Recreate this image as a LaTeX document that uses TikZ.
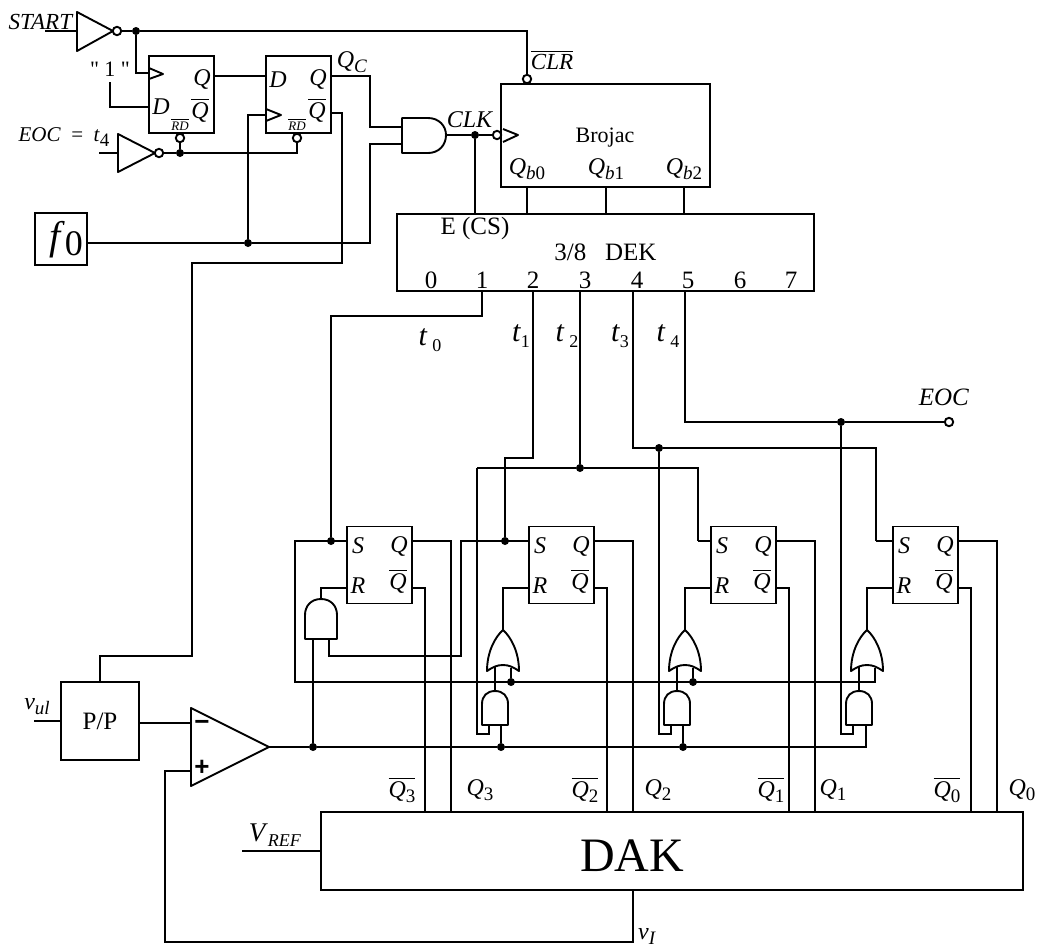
\documentclass[tikz,border=0pt]{standalone}
\usepackage{fontspec}
\setmainfont{Liberation Serif}
\setsansfont{Liberation Sans}
\newfontfamily\straightfont{Liberation Serif}
\newcommand{\fsize}[1]{\fontsize{#1}{#1}\selectfont}
\newcommand{\lowsub}[1]{\raisebox{-.45ex}{\fsize{9.5}#1}}
\newcommand{\qbar}[1]{$\overline{\hbox{\textit{Q}#1}}$}
\tikzset{
	wire/.style={line width=0.95pt},
	gate/.style={line width=0.95pt,line join=round},
	blockbox/.style={draw,line width=0.95pt,inner sep=0,outer sep=0},
	ffbox/.style={blockbox,minimum width=32.5pt,minimum height=38.5pt},
	lbl/.style={inner sep=0,font=\fsize{12}},
	jdot/.style={circle,fill=black,inner sep=0,outer sep=0,minimum size=4pt},
	bubble/.style={circle,draw,fill=white,line width=0.95pt,inner sep=0,outer sep=0,minimum size=4.2pt}
}
\begin{document}
\begin{tikzpicture}[x=0.5pt,y=-0.5pt]
	\useasboundingbox (0,0) rectangle (1037,948);
	
	%START inverter
	\node[lbl] (start) at (41,22) {\fsize{11.5}\textit{START}};
	\coordinate (startin) at (45,31);
	\coordinate (startinv) at (77,31);
	\draw[gate] (77,12) -- (113,31) -- (77,51) -- cycle;
	\node[bubble] (startb) at (117,31) {};
	\node[jdot] (jstart) at (136,31) {};
	\node[bubble] (clrb) at (527,79) {};
	\node[lbl] (clr) at (552,60) {\fsize{11.5}$\overline{\hbox{\textit{CLR}}}$};
	\draw[wire] (startin) -- (startinv);
	\draw[wire] (startb) -- (jstart) -| (clrb);
	
	%First D-Cell
	\def\x{149}
	\node[ffbox] (ffa) at (\x+32.5,94.5) {};
	\node[lbl] (ffaD) at (\x+12,107) {\textit{D}};
	\node[lbl] (ffaQ) at (\x+53,79) {\textit{Q}};
	\node[lbl] (ffaN) at (\x+51,110) {\qbar{}};
	\node[lbl] (ffaR) at (\x+31,124) {$\overline{\hbox{\fsize{6.5}\textit{RD}}}$};
	\draw[gate] (\x,68) -- (\x+14,74) -- (\x,79);
	\coordinate (ffac) at (\x,73);
	\coordinate (ffad) at (\x,107);
	\coordinate (ffaq) at (\x+65,76);
	\node[bubble] (ffab) at (\x+31,138) {};
	\node[lbl] (one) at (110,69) {\fsize{11}\straightfont" 1 "};
	\coordinate (onepin) at (110,82);
	\draw[wire] (jstart) |- (ffac);
	\draw[wire] (onepin) |- (ffad);
	
	%Second D-Cell
	\def\x{266}
	\node[ffbox] (ffb) at (\x+32.5,94.5) {};
	\node[lbl] (ffbD) at (\x+12,80) {\textit{D}};
	\node[lbl] (ffbQ) at (\x+52,79) {\textit{Q}};
	\node[lbl] (ffbN) at (\x+51,110) {\qbar{}};
	\node[lbl] (ffbR) at (\x+31,124) {$\overline{\hbox{\fsize{6.5}\textit{RD}}}$};
	\draw[gate] (\x,109) -- (\x+15,115) -- (\x,121);
	\coordinate (ffbc) at (\x,115);
	\coordinate (ffbd) at (\x,76);
	\coordinate (ffbq) at (\x+65,76);
	\coordinate (ffbn) at (\x+65,113);
	\node[bubble] (ffbb) at (\x+31,138) {};
	\node[lbl] (qc) at (352,62) {\textit{Q}\lowsub{\textit{C}}};
	\draw[wire] (ffaq) -- (ffbd);
	
	%EOC inverter
	\node[lbl] (eoceq) at (64,137) {\fsize{10.5}\textit{EOC}\ \ =\ \ \textit{t}\lowsub{4}};
	\coordinate (eocin) at (99,153);
	\coordinate (eocinv) at (118,153);
	\draw[gate] (118,134) -- (155,153) -- (118,172) -- cycle;
	\node[bubble] (eocb) at (159,153) {};
	\node[jdot] (jrd) at (180,153) {};
	\draw[wire] (eocin) -- (eocinv);
	\draw[wire] (eocb) -- (jrd) -| (ffbb);
	\draw[wire] (ffab) -- (jrd);
	
	%f0 and the AND in front of CLK
	\node[blockbox,minimum width=26pt,minimum height=26pt] (fzero) at (61,239) {};
	\node[lbl] (fzerot) at (66,240) {\fsize{20}\textit{f}\raisebox{-.3ex}{\fsize{18}0}};
	\node[jdot] (jf) at (248,243) {};
	\coordinate (fout) at (87,243);
	\coordinate (anda) at (402,127);
	\coordinate (andb) at (402,144);
	\coordinate (andc) at (446,135);
	\coordinate (qcup) at (370,127);
	\coordinate (fup) at (370,144);
	\draw[gate] (402,118) -- (428,118) .. controls (439,118) and (446,126) .. (446,135) .. controls (446,145) and (439,153) .. (428,153) -- (402,153) -- cycle;
	\draw[wire] (fout) -- (jf) -| (fup) -- (andb);
	\draw[wire] (jf) |- (ffbc);
	\draw[wire] (ffbq) -| (qcup) -- (anda);
	\node[lbl] (clk) at (470,120) {\textit{CLK}};
	\node[jdot] (jclk) at (475,135) {};
	\node[bubble] (clkb) at (497,135) {};
	\draw[wire] (andc) -- (jclk) -- (clkb);
	
	%Brojac
	\node[blockbox,minimum width=104.5pt,minimum height=51.5pt] (brojac) at (605.5,135.5) {};
	\node[lbl,font=\fsize{11}] (brojact) at (605,138) {Brojac};
	\draw[gate] (503,129) -- (518,135) -- (503,142);
	\node[lbl] (qba) at (527,169) {\textit{Q}\lowsub{\textit{b}0}};
	\node[lbl] (qbb) at (606,169) {\textit{Q}\lowsub{\textit{b}1}};
	\node[lbl] (qbc) at (684,169) {\textit{Q}\lowsub{\textit{b}2}};
	\coordinate (broa) at (527,187);
	\coordinate (brob) at (606,187);
	\coordinate (broc) at (684,187);
	
	%3/8 decoder
	\node[blockbox,minimum width=208.5pt,minimum height=38.5pt,font=\fsize{12.5}] (dek) at (605.5,252.5) {3/8\ \ \ DEK};
	\node[lbl,font=\fsize{12.5}] (ecs) at (475,228) {E (CS)};
	\node[lbl,font=\fsize{12.5}] (dzero) at (431,280) {0};
	\node[lbl,font=\fsize{12.5}] (done) at (482,280) {1};
	\node[lbl,font=\fsize{12.5}] (dtwo) at (533,280) {2};
	\node[lbl,font=\fsize{12.5}] (dthree) at (585,280) {3};
	\node[lbl,font=\fsize{12.5}] (dfour) at (637,280) {4};
	\node[lbl,font=\fsize{12.5}] (dfive) at (688,280) {5};
	\node[lbl,font=\fsize{12.5}] (dsix) at (740,280) {6};
	\node[lbl,font=\fsize{12.5}] (dseven) at (791,280) {7};
	\coordinate (dekE) at (475,214);
	\coordinate (deka) at (527,214);
	\coordinate (dekb) at (606,214);
	\coordinate (dekc) at (684,214);
	\coordinate (dekt) at (482,291);
	\coordinate (deku) at (533,291);
	\coordinate (dekv) at (580,291);
	\coordinate (dekw) at (633,291);
	\coordinate (dekz) at (685,291);
	\draw[wire] (jclk) -- (dekE);
	\draw[wire] (broa) -- (deka);
	\draw[wire] (brob) -- (dekb);
	\draw[wire] (broc) -- (dekc);
	
	\node[lbl] (tzero) at (430,340) {\fsize{15}\textit{t}\,\lowsub{\fsize{9}0}};
	\node[lbl] (tone) at (521,336) {\fsize{15}\textit{t}\lowsub{\fsize{9}1}};
	\node[lbl] (ttwo) at (567,336) {\fsize{15}\textit{t}\,\lowsub{\fsize{9}2}};
	\node[lbl] (tthree) at (620,336) {\fsize{15}\textit{t}\lowsub{\fsize{9}3}};
	\node[lbl] (tfour) at (668,336) {\fsize{15}\textit{t}\,\lowsub{\fsize{9}4}};
	
	%EOC output and the t lines
	\node[bubble] (eocout) at (949,422) {};
	\node[lbl] (eoc) at (944,397) {\fsize{12.5}\textit{EOC}};
	\node[jdot] (jeoc) at (841,422) {};
	\node[jdot] (jtthree) at (659,448) {};
	\node[jdot] (jttwo) at (580,468) {};
	\coordinate (busa) at (477,468);
	\coordinate (busb) at (698,468);
	\coordinate (busc) at (876,448);
	\coordinate (sonein) at (698,541);
	\coordinate (szeroin) at (876,541);
	\draw[wire] (dekz) |- (jeoc) -- (eocout);
	\draw[wire] (dekw) |- (jtthree) -- (busc) -- (szeroin);
	\draw[wire] (dekv) -- (jttwo);
	\draw[wire] (busa) -- (jttwo) -- (busb) -- (sonein);
	
	%One SR-Cell
	\def\x{347}
	\node[ffbox] (srd) at (\x+32.5,565) {};
	\node[lbl] (srdS) at (\x+11,546) {\textit{S}};
	\node[lbl] (srdR) at (\x+11,586) {\textit{R}};
	\node[lbl] (srdQ) at (\x+52,546) {\textit{Q}};
	\node[lbl] (srdN) at (\x+51,581) {\qbar{}};
	\coordinate (srds) at (\x,541);
	\coordinate (srdr) at (\x,588);
	\coordinate (srdq) at (\x+65,541);
	\coordinate (srdn) at (\x+65,588);
	\coordinate (srdqd) at (\x+104,812);
	\coordinate (srdnd) at (\x+78,812);
	\draw[wire] (srdq) -| (srdqd);
	\draw[wire] (srdn) -| (srdnd);
	\draw[gate] (305,639) -- (305,615) .. controls (305,606) and (311,599) .. (321,599) .. controls (331,599) and (337,606) .. (337,615) -- (337,639) -- cycle;
	\coordinate (srdandt) at (321,599);
	\coordinate (srdanda) at (313,639);
	\coordinate (srdandb) at (329,639);
	\node[jdot] (jsrd) at (313,747) {};
	\draw[wire] (srdr) -| (srdandt);
	\draw[wire] (srdanda) -- (jsrd);
	
	%One SR-Cell
	\def\x{529}
	\node[ffbox] (src) at (\x+32.5,565) {};
	\node[lbl] (srcS) at (\x+11,546) {\textit{S}};
	\node[lbl] (srcR) at (\x+11,586) {\textit{R}};
	\node[lbl] (srcQ) at (\x+52,546) {\textit{Q}};
	\node[lbl] (srcN) at (\x+51,581) {\qbar{}};
	\coordinate (srcs) at (\x,541);
	\coordinate (srcr) at (\x,588);
	\coordinate (srcq) at (\x+65,541);
	\coordinate (srcn) at (\x+65,588);
	\coordinate (srcqd) at (\x+104,812);
	\coordinate (srcnd) at (\x+78,812);
	\draw[wire] (srcq) -| (srcqd);
	\draw[wire] (srcn) -| (srcnd);
	\draw[gate] (\x-26,630) .. controls (\x-18,637) and (\x-10,652) .. (\x-10,671) .. controls (\x-16,667) and (\x-20,665) .. (\x-26,665) .. controls (\x-32,665) and (\x-36,667) .. (\x-42,671) .. controls (\x-42,652) and (\x-34,637) .. (\x-26,630) -- cycle;
	\draw[gate] (\x-47,725) -- (\x-47,704) .. controls (\x-47,696) and (\x-42,691) .. (\x-34,691) .. controls (\x-26,691) and (\x-21,696) .. (\x-21,704) -- (\x-21,725) -- cycle;
	\coordinate (srcort) at (\x-26,630);
	\coordinate (srcora) at (\x-34,666);
	\coordinate (srcorb) at (\x-18,668);
	\coordinate (srcando) at (\x-34,691);
	\coordinate (srcanda) at (\x-40,725);
	\coordinate (srcandb) at (\x-28,725);
	\coordinate (srcfeed) at (\x-52,734);
	\node[jdot] (jsrcor) at (\x-18,682) {};
	\node[jdot] (jsrcand) at (\x-28,747) {};
	\draw[wire] (srcr) -| (srcort);
	\draw[wire] (srcando) -- (srcora);
	\draw[wire] (srcorb) -- (jsrcor);
	\draw[wire] (srcandb) -- (jsrcand);
	\draw[wire] (busa) -- (srcfeed) -| (srcanda);
	
	%One SR-Cell
	\def\x{711}
	\node[ffbox] (srb) at (\x+32.5,565) {};
	\node[lbl] (srbS) at (\x+11,546) {\textit{S}};
	\node[lbl] (srbR) at (\x+11,586) {\textit{R}};
	\node[lbl] (srbQ) at (\x+52,546) {\textit{Q}};
	\node[lbl] (srbN) at (\x+51,581) {\qbar{}};
	\coordinate (srbs) at (\x,541);
	\coordinate (srbr) at (\x,588);
	\coordinate (srbq) at (\x+65,541);
	\coordinate (srbn) at (\x+65,588);
	\coordinate (srbqd) at (\x+104,812);
	\coordinate (srbnd) at (\x+78,812);
	\draw[wire] (srbq) -| (srbqd);
	\draw[wire] (srbn) -| (srbnd);
	\draw[gate] (\x-26,630) .. controls (\x-18,637) and (\x-10,652) .. (\x-10,671) .. controls (\x-16,667) and (\x-20,665) .. (\x-26,665) .. controls (\x-32,665) and (\x-36,667) .. (\x-42,671) .. controls (\x-42,652) and (\x-34,637) .. (\x-26,630) -- cycle;
	\draw[gate] (\x-47,725) -- (\x-47,704) .. controls (\x-47,696) and (\x-42,691) .. (\x-34,691) .. controls (\x-26,691) and (\x-21,696) .. (\x-21,704) -- (\x-21,725) -- cycle;
	\coordinate (srbort) at (\x-26,630);
	\coordinate (srbora) at (\x-34,666);
	\coordinate (srborb) at (\x-18,668);
	\coordinate (srbando) at (\x-34,691);
	\coordinate (srbanda) at (\x-40,725);
	\coordinate (srbandb) at (\x-28,725);
	\coordinate (srbfeed) at (\x-52,734);
	\node[jdot] (jsrbor) at (\x-18,682) {};
	\node[jdot] (jsrband) at (\x-28,747) {};
	\draw[wire] (srbr) -| (srbort);
	\draw[wire] (srbando) -- (srbora);
	\draw[wire] (srborb) -- (jsrbor);
	\draw[wire] (srbandb) -- (jsrband);
	\draw[wire] (jtthree) -- (srbfeed) -| (srbanda);
	\draw[wire] (sonein) -- (srbs);
	
	%One SR-Cell
	\def\x{893}
	\node[ffbox] (sra) at (\x+32.5,565) {};
	\node[lbl] (sraS) at (\x+11,546) {\textit{S}};
	\node[lbl] (sraR) at (\x+11,586) {\textit{R}};
	\node[lbl] (sraQ) at (\x+52,546) {\textit{Q}};
	\node[lbl] (sraN) at (\x+51,581) {\qbar{}};
	\coordinate (sras) at (\x,541);
	\coordinate (srar) at (\x,588);
	\coordinate (sraq) at (\x+65,541);
	\coordinate (sran) at (\x+65,588);
	\coordinate (sraqd) at (\x+104,812);
	\coordinate (srand) at (\x+78,812);
	\draw[wire] (sraq) -| (sraqd);
	\draw[wire] (sran) -| (srand);
	\draw[gate] (\x-26,630) .. controls (\x-18,637) and (\x-10,652) .. (\x-10,671) .. controls (\x-16,667) and (\x-20,665) .. (\x-26,665) .. controls (\x-32,665) and (\x-36,667) .. (\x-42,671) .. controls (\x-42,652) and (\x-34,637) .. (\x-26,630) -- cycle;
	\draw[gate] (\x-47,725) -- (\x-47,704) .. controls (\x-47,696) and (\x-42,691) .. (\x-34,691) .. controls (\x-26,691) and (\x-21,696) .. (\x-21,704) -- (\x-21,725) -- cycle;
	\coordinate (sraort) at (\x-26,630);
	\coordinate (sraora) at (\x-34,666);
	\coordinate (sraorb) at (\x-18,668);
	\coordinate (sraando) at (\x-34,691);
	\coordinate (sraanda) at (\x-40,725);
	\coordinate (sraandb) at (\x-27,725);
	\coordinate (srafeed) at (\x-52,734);
	\draw[wire] (srar) -| (sraort);
	\draw[wire] (sraando) -- (sraora);
	\draw[wire] (jeoc) -- (srafeed) -| (sraanda);
	\draw[wire] (szeroin) -- (sras);
	
	%Wires between the SR-Cells
	\node[jdot] (jtzero) at (331,541) {};
	\node[jdot] (jtone) at (505,541) {};
	\coordinate (loopa) at (295,682);
	\coordinate (crossa) at (461,656);
	\draw[wire] (dekt) -- ++(0,25) -| (jtzero);
	\draw[wire] (deku) -- ++(0,167) -| (jtone);
	\draw[wire] (srds) -| (loopa) -| (sraorb);
	\draw[wire] (srcs) -| (crossa) -| (srdandb);
	
	%Comparator and P/P
	\node[blockbox,minimum width=39pt,minimum height=39pt,font=\fsize{12.5}] (pp) at (100,721) {P/P};
	\node[lbl] (vul) at (37,707) {\textit{v}\lowsub{\textit{ul}}};
	\coordinate (vulin) at (34,721);
	\coordinate (ppin) at (61,721);
	\coordinate (ppout) at (139,723);
	\coordinate (pptop) at (100,682);
	\coordinate (cmpm) at (191,723);
	\coordinate (cmpp) at (191,771);
	\coordinate (cmpo) at (269,747);
	\draw[gate] (191,708) -- (269,747) -- (191,786) -- cycle;
	\node[lbl] (minus) at (202,725) {\fsize{13}\sffamily\bfseries −};
	\node[lbl] (plus) at (202,768) {\fsize{13}\sffamily\bfseries +};
	\coordinate (ffbleft) at (192,263);
	\coordinate (ffbdown) at (192,656);
	\draw[wire] (vulin) -- (ppin);
	\draw[wire] (ppout) -- (cmpm);
	\draw[wire] (ffbn) -- ++(11,0) |- (ffbleft) -- (ffbdown) -| (pptop);
	\draw[wire] (cmpo) -- (jsrd) -- (jsrcand) -- (jsrband) -| (sraandb);
	
	%DAK
	\node[blockbox,minimum width=351pt,minimum height=39pt] (dak) at (672,851) {};
	\node[lbl,font=\fsize{24}] (dakt) at (632,856) {DAK};
	\node[lbl] (vref) at (275,835) {\fsize{13.5}\textit{V}\lowsub{\fsize{9}\textit{REF}}};
	\coordinate (vrefin) at (242,851);
	\coordinate (dakin) at (321,851);
	\coordinate (dakout) at (633,890);
	\coordinate (fbb) at (165,942);
	\node[lbl] (vi) at (647,936) {\textit{v}\lowsub{\textit{I}}};
	\draw[wire] (vrefin) -- (dakin);
	\draw[wire] (dakout) |- (fbb) |- (cmpp);
	
	\node[lbl] (lqdn) at (402,790) {\qbar{\lowsub{3}}};
	\node[lbl] (lqd) at (480,790) {\textit{Q}\lowsub{3}};
	\node[lbl] (lqcn) at (585,790) {\qbar{\lowsub{2}}};
	\node[lbl] (lqc) at (658,790) {\textit{Q}\lowsub{2}};
	\node[lbl] (lqbn) at (771,790) {\qbar{\lowsub{1}}};
	\node[lbl] (lqb) at (833,790) {\textit{Q}\lowsub{1}};
	\node[lbl] (lqan) at (947,790) {\qbar{\lowsub{0}}};
	\node[lbl] (lqa) at (1022,790) {\textit{Q}\lowsub{0}};
\end{tikzpicture}
\end{document}
